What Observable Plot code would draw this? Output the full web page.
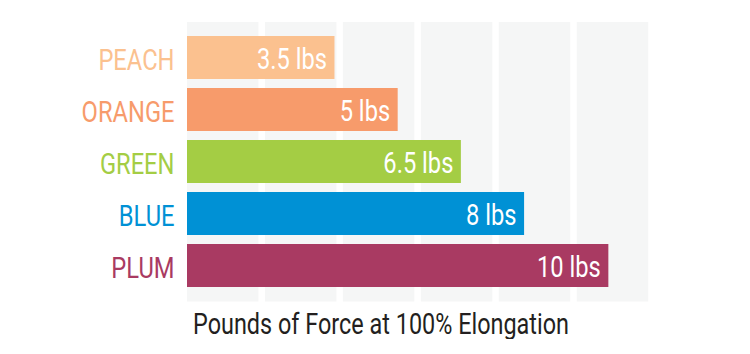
<!DOCTYPE html>
<html>
<head>
<meta charset="utf-8">
<script src="https://cdn.jsdelivr.net/npm/d3@7"></script>
<script src="https://cdn.jsdelivr.net/npm/@observablehq/plot@0.6"></script>
<style>
  body { margin: 0; background: #fff; }
  #chart svg { display: block; }
  #caption {
    font-family: Roboto, sans-serif;
    font-size: 30px; color: #231F20; padding-left: 193px; line-height: 30px; margin-top: 4px;
    white-space: nowrap;
  }
  #caption span { display: inline-block; transform-origin: left center; }
</style>
</head>
<body>
<div id="chart"></div>
<div id="caption"><span>Pounds of Force at 100% Elongation</span></div>
<script>
const categories = ["PEACH", "ORANGE", "GREEN", "BLUE", "PLUM"];
const values = [3.5, 5, 6.5, 8, 10];
const valueLabels = ["3.5 lbs", "5 lbs", "6.5 lbs", "8 lbs", "10 lbs"];
const colors = ["#FBC18F", "#F79B6B", "#A4CD44", "#0091D5", "#A93A62"];
const bandStarts = [0, 1.85, 3.7, 5.55, 7.4, 9.25];
const bandWidth = 1.85;

const data = categories.map((name, i) => ({name, value: values[i], label: valueLabels[i]}));
const bands = bandStarts.map(s => ({x1: s, x2: s + bandWidth}));

const font = "Roboto, sans-serif";
const squeeze = 0.79;

const chart = Plot.plot({
  width: 750,
  height: 305,
  marginLeft: 187,
  marginRight: 95.3,
  marginTop: 22,
  marginBottom: 3.5,
  style: {fontFamily: font, background: "white"},
  x: {domain: [0, 11.1], axis: null},
  y: {domain: categories, paddingInner: 0.18, paddingOuter: 0.26, axis: null},
  color: {domain: categories, range: colors},
  marks: [
    Plot.rect(bands, {x1: "x1", x2: "x2", fill: "#F5F6F6", insetRight: 6.5}),
    Plot.barX(data, {x: "value", y: "name", fill: "name"}),
    Plot.text(data, {x: "value", y: "name", text: "label", textAnchor: "end", dx: -8, dy: 1, fill: "white", fontSize: 30}),
    Plot.text(data, {x: 0, y: "name", text: "name", textAnchor: "end", dx: -13, dy: 2, fill: "name", fontSize: 30})
  ]
});
document.getElementById("chart").appendChild(chart);

// condense glyphs to mimic the narrow typeface of the original
chart.querySelectorAll("text").forEach(t => {
  const w = t.getComputedTextLength();
  t.setAttribute("textLength", w * squeeze);
  t.setAttribute("lengthAdjust", "spacingAndGlyphs");
});
const cap = document.querySelector("#caption span");
cap.style.transform = `scaleX(${376 / cap.getBoundingClientRect().width})`;
</script>
</body>
</html>
